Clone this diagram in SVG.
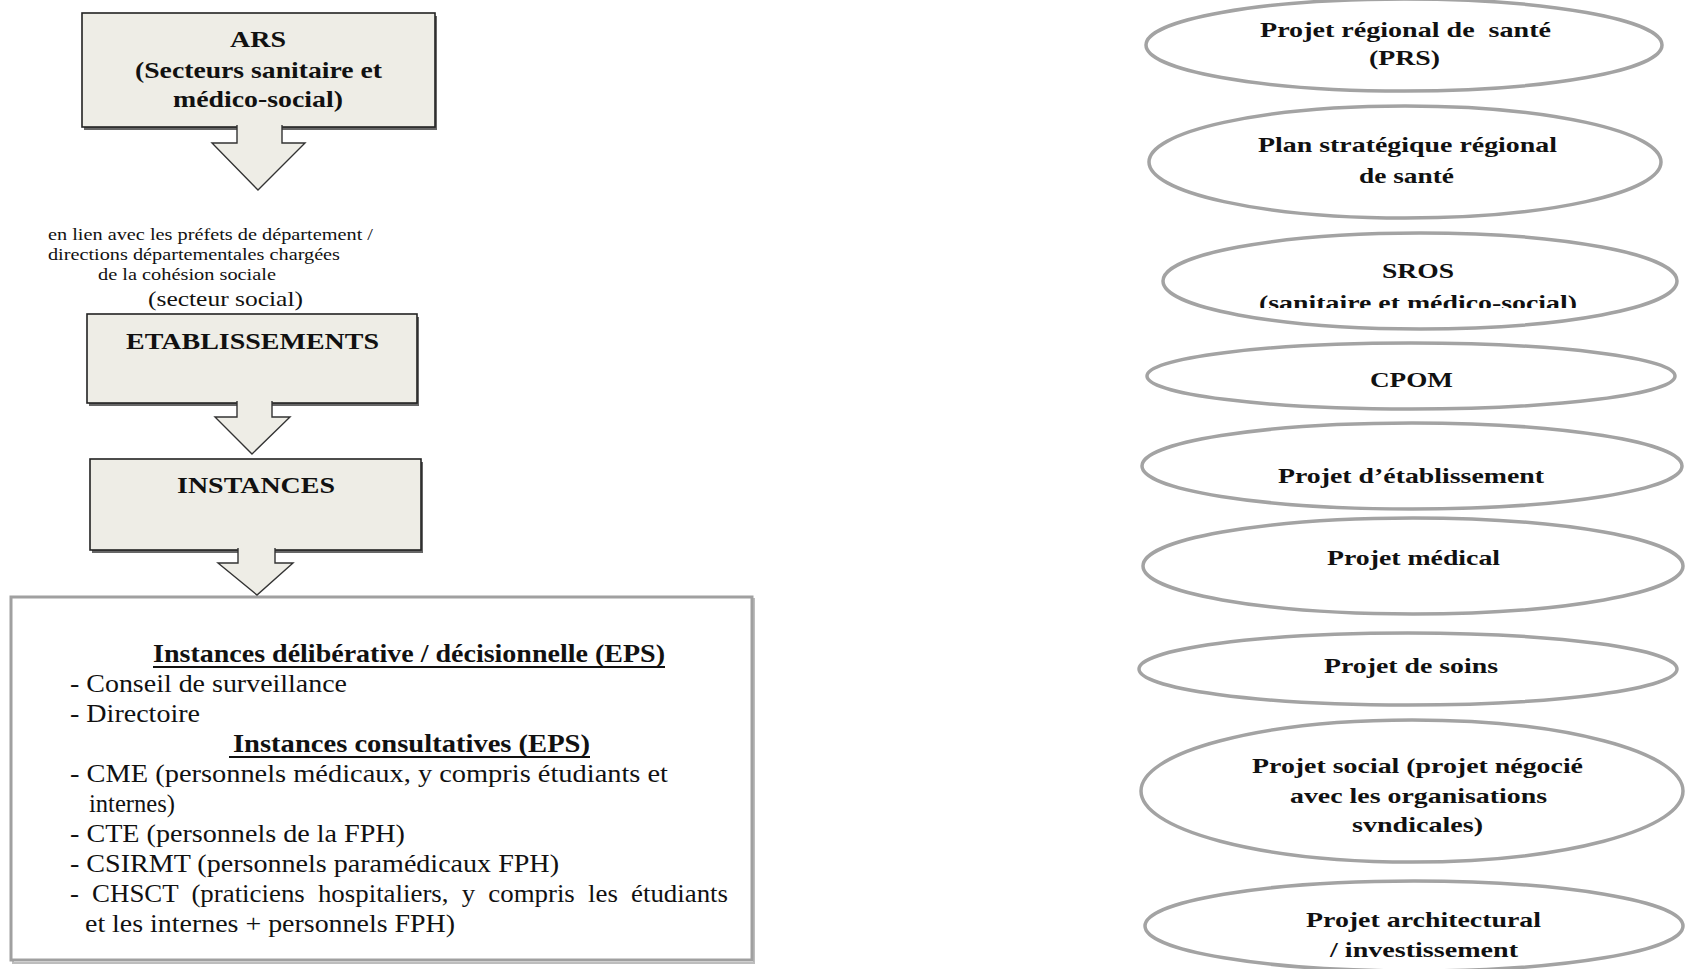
<svg xmlns="http://www.w3.org/2000/svg" width="1685" height="969" viewBox="0 0 1685 969" font-family="'Liberation Serif', 'Times New Roman', serif">
<style>
text { font-family: 'Liberation Serif', 'Times New Roman', serif; fill: #111; }
.b { font-weight: bold; }
.box { fill: #eeede6; stroke: #222; stroke-width: 1.6; }
.shadow { fill: #666; }
.arrow { fill: #eeede6; stroke: #333; stroke-width: 1.4; stroke-linejoin: miter; }
.ell { fill: #fff; stroke: #a3a3a3; stroke-width: 3.5; }
.t24 { font-size: 24px; }
.t25 { font-size: 25px; }
.t22 { font-size: 22px; }
.t17 { font-size: 17px; }
.t21 { font-size: 21px; }
.ul { stroke: #111; stroke-width: 1.8; }
</style>
<defs>
<clipPath id="clipSros"><rect x="1150" y="230" width="540" height="78"/></clipPath>
</defs>
<rect width="1685" height="969" fill="#fff"/>

<g id="ars">
<rect class="shadow" x="84" y="16" width="353" height="114"/>
<rect class="box" x="82" y="13" width="353" height="114"/>
<text class="b t24" x="230" y="47" textLength="56" lengthAdjust="spacingAndGlyphs">ARS</text>
<text class="b t24" x="135" y="78" textLength="247" lengthAdjust="spacingAndGlyphs">(Secteurs sanitaire et</text>
<text class="b t24" x="173" y="107" textLength="170" lengthAdjust="spacingAndGlyphs">médico-social)</text>
</g>

<g id="note">
<text class="t17" x="48" y="240" textLength="325" lengthAdjust="spacingAndGlyphs">en lien avec les préfets de département /</text>
<text class="t17" x="48" y="260" textLength="292" lengthAdjust="spacingAndGlyphs">directions départementales chargées</text>
<text class="t17" x="98" y="280" textLength="178" lengthAdjust="spacingAndGlyphs">de la cohésion sociale</text>
<text class="t21" x="148" y="306" textLength="155" lengthAdjust="spacingAndGlyphs">(secteur social)</text>
</g>

<g id="etablissements">
<rect class="shadow" x="89" y="317" width="330" height="89"/>
<rect class="box" x="87" y="314" width="330" height="89"/>
<text class="b t24" x="126" y="349" textLength="253" lengthAdjust="spacingAndGlyphs">ETABLISSEMENTS</text>
</g>

<g id="instances">
<rect class="shadow" x="92" y="462" width="331" height="91"/>
<rect class="box" x="90" y="459" width="331" height="91"/>
<text class="b t24" x="177" y="493" textLength="158" lengthAdjust="spacingAndGlyphs">INSTANCES</text>
</g>

<g id="instances-detail">
<rect x="13" y="599" width="741" height="364" fill="none" stroke="#bdbdbd" stroke-width="2"/>
<rect x="11" y="597" width="741" height="363" fill="#fff" stroke="#a0a0a0" stroke-width="3"/>
<text class="b t25" x="153" y="662" textLength="512" lengthAdjust="spacingAndGlyphs">Instances délibérative / décisionnelle (EPS)</text>
<line class="ul" x1="153" y1="667" x2="665" y2="667"/>
<text class="t25" x="70" y="692" textLength="277" lengthAdjust="spacingAndGlyphs">- Conseil de surveillance</text>
<text class="t25" x="70" y="722" textLength="130" lengthAdjust="spacingAndGlyphs">- Directoire</text>
<text class="b t25" x="233" y="752" textLength="357" lengthAdjust="spacingAndGlyphs">Instances consultatives (EPS)</text>
<line class="ul" x1="229" y1="757" x2="590" y2="757"/>
<text class="t25" x="70" y="782" textLength="598" lengthAdjust="spacingAndGlyphs">- CME (personnels médicaux,  y compris étudiants et</text>
<text class="t25" x="89" y="812" textLength="86" lengthAdjust="spacingAndGlyphs">internes)</text>
<text class="t25" x="70" y="842" textLength="335" lengthAdjust="spacingAndGlyphs">- CTE (personnels de la FPH)</text>
<text class="t25" x="70" y="872" textLength="489" lengthAdjust="spacingAndGlyphs">- CSIRMT (personnels paramédicaux FPH)</text>
<text class="t25" x="70" y="902" textLength="658" lengthAdjust="spacingAndGlyphs" word-spacing="6">- CHSCT (praticiens hospitaliers, y compris les étudiants</text>
<text class="t25" x="85" y="932" textLength="370" lengthAdjust="spacingAndGlyphs">et les internes + personnels FPH)</text>
</g>

<g id="connectors">
<path class="arrow" d="M237,125 V143 H212 L258,190 L305,143 H282 V125"/>
<path class="arrow" d="M237,401 V417 H215 L252,454 L290,417 H272 V401"/>
<path class="arrow" d="M238,548 V563 H218 L257,595 L293,563 H275 V548"/>
</g>

<g id="prs">
<ellipse class="ell" cx="1404" cy="45" rx="258" ry="46"/>
<text class="b t22" x="1260" y="37" textLength="291" lengthAdjust="spacingAndGlyphs" xml:space="preserve">Projet régional de  santé</text>
<text class="b t22" x="1369" y="65" textLength="71" lengthAdjust="spacingAndGlyphs">(PRS)</text>
</g>

<g id="psrs">
<ellipse class="ell" cx="1405" cy="162" rx="256" ry="56"/>
<text class="b t22" x="1258" y="152" textLength="299" lengthAdjust="spacingAndGlyphs">Plan stratégique régional</text>
<text class="b t22" x="1359" y="183" textLength="95" lengthAdjust="spacingAndGlyphs">de santé</text>
</g>

<g id="sros">
<ellipse class="ell" cx="1420" cy="281" rx="257" ry="48"/>
<text class="b t22" x="1382" y="278" textLength="72" lengthAdjust="spacingAndGlyphs">SROS</text>
<text class="b t22" x="1259" y="310" textLength="318" lengthAdjust="spacingAndGlyphs" clip-path="url(#clipSros)">(sanitaire et médico-social)</text>
</g>

<g id="cpom">
<ellipse class="ell" cx="1411" cy="376" rx="264" ry="33"/>
<text class="b t22" x="1370" y="387" textLength="83" lengthAdjust="spacingAndGlyphs">CPOM</text>
</g>

<g id="projet-etablissement">
<ellipse class="ell" cx="1412" cy="466" rx="270" ry="43"/>
<text class="b t22" x="1278" y="483" textLength="266" lengthAdjust="spacingAndGlyphs">Projet d’établissement</text>
</g>

<g id="projet-medical">
<ellipse class="ell" cx="1413" cy="566" rx="270" ry="48"/>
<text class="b t22" x="1327" y="565" textLength="173" lengthAdjust="spacingAndGlyphs">Projet médical</text>
</g>

<g id="projet-soins">
<ellipse class="ell" cx="1408" cy="669" rx="269" ry="36"/>
<text class="b t22" x="1324" y="673" textLength="174" lengthAdjust="spacingAndGlyphs">Projet de soins</text>
</g>

<g id="projet-social">
<ellipse class="ell" cx="1412" cy="791" rx="271" ry="71"/>
<text class="b t22" x="1252" y="773" textLength="331" lengthAdjust="spacingAndGlyphs">Projet social (projet négocié</text>
<text class="b t22" x="1290" y="803" textLength="257" lengthAdjust="spacingAndGlyphs">avec les organisations</text>
<text class="b t22" x="1352" y="832" textLength="131" lengthAdjust="spacingAndGlyphs">svndicales)</text>
</g>

<g id="projet-architectural">
<ellipse class="ell" cx="1414" cy="926" rx="269" ry="45"/>
<text class="b t22" x="1306" y="927" textLength="235" lengthAdjust="spacingAndGlyphs">Projet architectural</text>
<text class="b t22" x="1330" y="957" textLength="188" lengthAdjust="spacingAndGlyphs">/ investissement</text>
</g>
</svg>
